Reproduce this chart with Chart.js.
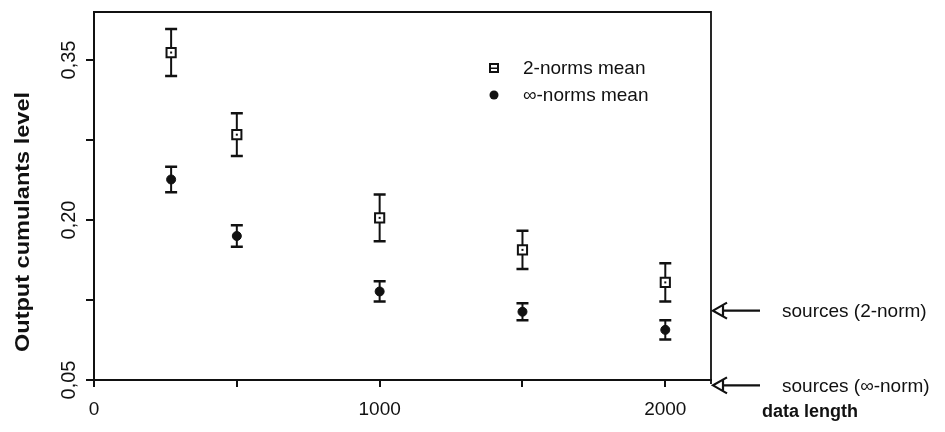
<!DOCTYPE html>
<html><head><meta charset="utf-8">
<script src="https://cdn.jsdelivr.net/npm/chart.js@4.4.1/dist/chart.umd.min.js"></script>
<style>html,body{margin:0;padding:0;background:#fff}#wrap{width:945px;height:432px;position:relative}</style>
</head><body><div id="wrap"><canvas id="c" width="945" height="432"></canvas></div>
<script>
const dataLength = [270, 500, 1000, 1500, 2000];
const twoNormMean = [0.357, 0.280, 0.202, 0.172, 0.1415];
const twoNormErr = [0.022, 0.020, 0.022, 0.018, 0.018];
const infNormMean = [0.238, 0.185, 0.133, 0.114, 0.097];
const infNormErr = [0.012, 0.010, 0.0095, 0.008, 0.009];
const xTicks = [0, 500, 1000, 1500, 2000];
const xTickLabels = ['0', '', '1000', '', '2000'];
const yTicks = [0.05, 0.125, 0.20, 0.275, 0.35];
const yTickLabels = ['0,05', '', '0,20', '', '0,35'];
const sourceLevels = [0.115, 0.045];
const sourceLabels = ['sources (2-norm)', 'sources (\u221e-norm)'];
const seriesLabels = ['2-norms mean', '\u221e-norms mean'];
const xTitle = 'data length';
const yTitle = 'Output cumulants level';

const INK = '#111';
const FONT = '"Liberation Sans", Arial, Helvetica, sans-serif';

const errorBars = {
  id: 'errorBars',
  beforeDatasetsDraw(chart) {
    const {ctx, scales: {x, y}} = chart;
    const sets = [[twoNormMean, twoNormErr], [infNormMean, infNormErr]];
    ctx.save();
    ctx.strokeStyle = INK;
    sets.forEach(([m, e]) => {
      dataLength.forEach((dl, i) => {
        const px = x.getPixelForValue(dl);
        const top = y.getPixelForValue(m[i] + e[i]);
        const bot = y.getPixelForValue(m[i] - e[i]);
        ctx.lineWidth = 2;
        ctx.beginPath(); ctx.moveTo(px, top); ctx.lineTo(px, bot); ctx.stroke();
        ctx.lineWidth = 2.5;
        ctx.beginPath();
        ctx.moveTo(px - 6, top); ctx.lineTo(px + 6, top);
        ctx.moveTo(px - 6, bot); ctx.lineTo(px + 6, bot);
        ctx.stroke();
      });
    });
    ctx.restore();
  }
};

const decor = {
  id: 'decor',
  afterDatasetsDraw(chart) {
    const {ctx, chartArea: ca, scales: {x, y}} = chart;
    ctx.save();
    // centre dots in squares
    ctx.fillStyle = INK;
    dataLength.forEach((dl, i) => {
      const px = x.getPixelForValue(dl), py = y.getPixelForValue(twoNormMean[i]);
      ctx.fillRect(px - 1, py - 1, 2, 2);
    });
    // frame top & right
    ctx.strokeStyle = INK; ctx.lineWidth = 1.8;
    ctx.beginPath();
    ctx.moveTo(ca.left, ca.top); ctx.lineTo(ca.right, ca.top); ctx.lineTo(ca.right, ca.bottom + 4);
    ctx.stroke();
    // x tick labels
    ctx.font = '19px ' + FONT; ctx.textAlign = 'center'; ctx.textBaseline = 'middle';
    xTicks.forEach((v, i) => { if (xTickLabels[i]) ctx.fillText(xTickLabels[i], x.getPixelForValue(v), 410); });
    // y tick labels rotated
    ctx.font = '20px ' + FONT;
    yTicks.forEach((v, i) => {
      if (!yTickLabels[i]) return;
      ctx.save(); ctx.translate(69, y.getPixelForValue(v)); ctx.rotate(-Math.PI / 2);
      ctx.fillText(yTickLabels[i], 0, 0); ctx.restore();
    });
    // axis titles
    ctx.font = 'bold 18px ' + FONT;
    ctx.textAlign = 'left';
    ctx.fillText(xTitle, 762, 412);
    ctx.font = 'bold 21px ' + FONT;
    ctx.save(); ctx.translate(23, 222); ctx.rotate(-Math.PI / 2); ctx.scale(1.12, 1);
    ctx.textAlign = 'center'; ctx.fillText(yTitle, 0, 0); ctx.restore();
    // legend
    ctx.font = '19px ' + FONT; ctx.textAlign = 'left';
    ctx.lineWidth = 2; ctx.strokeStyle = INK;
    ctx.fillStyle = '#fff'; ctx.fillRect(490, 64, 8, 8); ctx.strokeRect(490, 64, 8, 8);
    ctx.fillStyle = INK; ctx.fillRect(490, 67.5, 8, 1.5);
    ctx.beginPath(); ctx.arc(494, 95, 4.5, 0, Math.PI * 2); ctx.fill();
    ctx.fillText(seriesLabels[0], 523, 69);
    ctx.fillText(seriesLabels[1], 523, 96);
    // source arrows
    sourceLevels.forEach((v, i) => {
      const py = y.getPixelForValue(v), x0 = ca.right + 1;
      ctx.lineWidth = 2.2;
      ctx.beginPath();
      ctx.moveTo(x0 + 15, py - 8); ctx.lineTo(x0 + 1, py); ctx.lineTo(x0 + 15, py + 8);
      ctx.moveTo(x0 + 11, py - 5); ctx.lineTo(x0 + 11, py + 5);
      ctx.moveTo(x0 + 11, py); ctx.lineTo(x0 + 48, py);
      ctx.stroke();
      ctx.fillText(sourceLabels[i], 782, py + 1);
    });
    ctx.restore();
  }
};

new Chart(document.getElementById('c'), {
  type: 'scatter',
  data: {
    datasets: [
      { label: seriesLabels[0], data: dataLength.map((d, i) => ({x: d, y: twoNormMean[i]})),
        pointStyle: 'rect', pointRadius: 6.5, backgroundColor: '#fff', borderColor: INK, borderWidth: 2 },
      { label: seriesLabels[1], data: dataLength.map((d, i) => ({x: d, y: infNormMean[i]})),
        pointStyle: 'circle', pointRadius: 4.5, backgroundColor: INK, borderColor: INK, borderWidth: 1 }
    ]
  },
  options: {
    responsive: false, animation: false, devicePixelRatio: 1,
    layout: { padding: { left: 0, right: 234, top: 12, bottom: 0 } },
    plugins: { legend: { display: false }, tooltip: { enabled: false } },
    scales: {
      x: {
        type: 'linear', min: 0, max: 2160,
        afterBuildTicks: s => { s.ticks = xTicks.map(v => ({value: v})); },
        afterFit: s => { s.height = 52; },
        ticks: { display: false },
        grid: { drawOnChartArea: false, tickLength: 7, color: INK, lineWidth: 2 },
        border: { color: INK, width: 2 }
      },
      y: {
        type: 'linear', min: 0.05, max: 0.395,
        afterBuildTicks: s => { s.ticks = yTicks.map(v => ({value: v})); },
        afterFit: s => { s.width = 94; },
        ticks: { display: false },
        grid: { drawOnChartArea: false, tickLength: 8, color: INK, lineWidth: 2 },
        border: { color: INK, width: 2 }
      }
    }
  },
  plugins: [errorBars, decor]
});
</script>
</body></html>
